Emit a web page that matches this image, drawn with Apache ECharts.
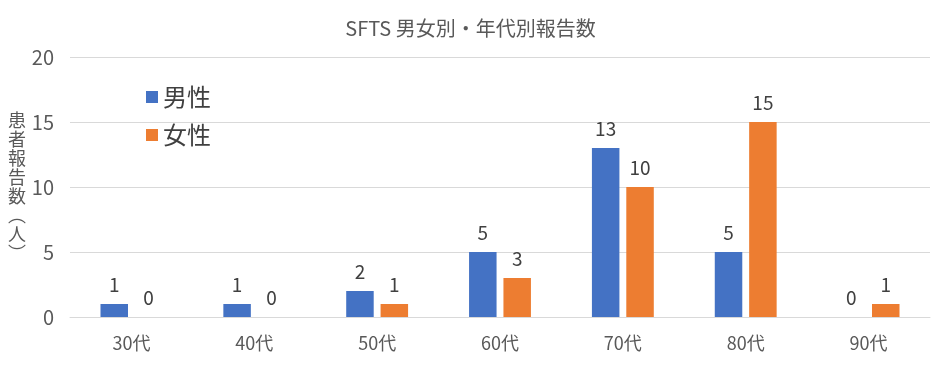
<!DOCTYPE html>
<html><head><meta charset="utf-8">
<script src="https://cdn.jsdelivr.net/npm/echarts@6/dist/echarts.min.js"></script>
<style>html,body{margin:0;padding:0;background:#fff}#c{width:941px;height:373px}</style>
</head><body><div id="c"></div>
<script>
const categories = ['30代','40代','50代','60代','70代','80代','90代'];
const male = [1,1,2,5,13,5,0];
const female = [0,0,1,3,10,15,1];
const yTicks = [0,5,10,15,20];
const FONT = '"Noto Sans CJK JP", sans-serif';
const chart = echarts.init(document.getElementById('c'));
const lbl = {show:true, position:'top', distance:10, color:'#404040', fontSize:19, fontFamily:FONT};
chart.setOption({
  animation:false,
  title:{text:'SFTS 男女別・年代別報告数', left:'center', top:13, textStyle:{color:'#595959', fontSize:20, fontWeight:'normal', fontFamily:FONT}},
  legend:{orient:'vertical', left:141, top:80, itemWidth:12, itemHeight:12, itemGap:14, icon:'rect',
    textStyle:{color:'#404040', fontSize:24, fontFamily:FONT}, data:['男性','女性']},
  grid:{left:70, right:11, top:57, bottom:56},
  xAxis:{type:'category', data:categories, axisTick:{show:false},
    axisLine:{lineStyle:{color:'#d9d9d9'}},
    axisLabel:{color:'#595959', fontSize:18, fontFamily:FONT, margin:17}},
  yAxis:{type:'value', min:0, max:20, interval:5,
    name:'患\n者\n報\n告\n数\n︵\n人\n︶', nameLocation:'middle', nameGap:43, nameRotate:0,
    nameTextStyle:{color:'#595959', fontSize:18, fontFamily:FONT, lineHeight:19, padding:[0,0,16,0]},
    axisLabel:{color:'#595959', fontSize:20, fontFamily:FONT, margin:16},
    splitLine:{lineStyle:{color:'#d9d9d9'}}},
  series:[
    {name:'男性', type:'bar', data:male, itemStyle:{color:'#4472c4'}, barWidth:27.5, barGap:'25%', label:lbl},
    {name:'女性', type:'bar', data:female, itemStyle:{color:'#ed7d31'}, barWidth:27.5, label:lbl}
  ]
});
</script></body></html>
